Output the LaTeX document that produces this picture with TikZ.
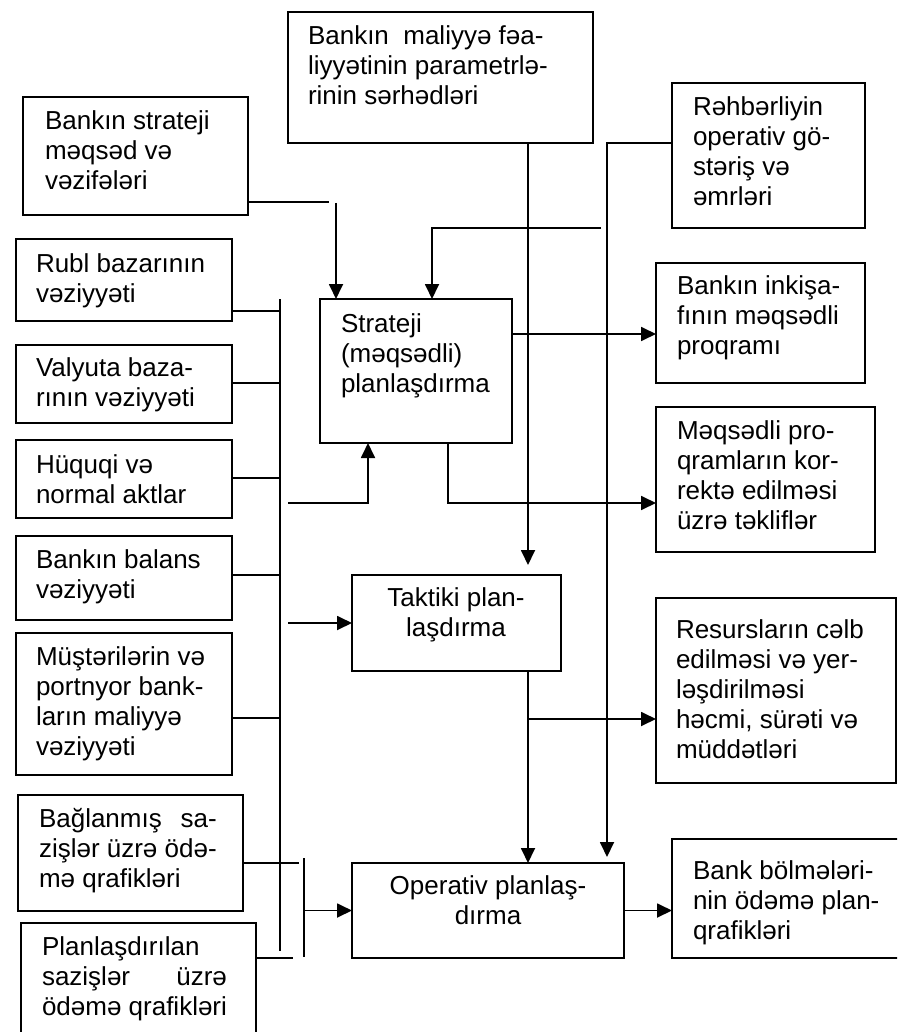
\documentclass[tikz,border=0pt]{standalone}
\usepackage{fontspec}
\setmainfont{Liberation Sans}
\usetikzlibrary{arrows.meta}
\newlength\spreadw
% stretch the first argument to the width of the second one
\newcommand\spreadto[2]{\settowidth{\spreadw}{#2}\makebox[\spreadw][s]{#1}}
\begin{document}
\begin{tikzpicture}[x=1pt,y=-1pt,
  box/.style={draw, line width=1.8pt, inner sep=0pt, outer sep=0pt, anchor=north west},
  % the strut puts the top of every text 21pt above its first baseline
  txt/.style={inner sep=0pt, outer sep=0pt, align=left, anchor=north west,
              font=\fontsize{26}{30}\selectfont, execute at begin node=\strut},
  ctxt/.style={txt, align=center, anchor=north},
  ln/.style={line width=1.8pt},
  arr/.style={ln, -{Triangle[length=15pt,width=14pt]}}]
\useasboundingbox (0,0) rectangle (897,1032);
\clip (0,0) rectangle (897,1032);

% ---------- boxes ----------
\node[box, minimum width=305, minimum height=131] (fin)   at (288,12)  {};
\node[box, minimum width=225, minimum height=118] (goal)  at (23,97)   {};
\node[box, minimum width=193, minimum height=145] (mgmt)  at (672,83)  {};
\node[box, minimum width=216, minimum height=82]  (rubl)  at (16,239)  {};
\node[box, minimum width=216, minimum height=78]  (valy)  at (16,345)  {};
\node[box, minimum width=216, minimum height=78]  (law)   at (16,440)  {};
\node[box, minimum width=216, minimum height=84]  (bal)   at (16,536)  {};
\node[box, minimum width=216, minimum height=142] (cli)   at (16,633)  {};
\node[box, minimum width=225, minimum height=116] (sign)  at (18,795)  {};
\node[box, minimum width=235, minimum height=125] (plan)  at (21,923)  {};
\node[box, minimum width=192, minimum height=144] (strat) at (320,299) {};
\node[box, minimum width=209, minimum height=96]  (tact)  at (352,575) {};
\node[box, minimum width=272, minimum height=95]  (oper)  at (352,863) {};
\node[box, minimum width=209, minimum height=120] (dev)   at (656,263) {};
\node[box, minimum width=219, minimum height=145] (corr)  at (656,407) {};
\node[box, minimum width=240, minimum height=185] (res)   at (656,598) {};
\node[box, minimum width=240, minimum height=119] (pay)   at (672,839) {};

% ---------- texts (y = first baseline - 21) ----------
\node[txt] (fin-t)   at (308,26)  {Bankın\ \ maliyyə fəa-\\liyyətinin parametrlə-\\rinin sərhədləri};
\node[txt] (goal-t)  at (45,111)  {Bankın strateji\\məqsəd və\\vəzifələri};
\node[txt] (mgmt-t)  at (693,97)  {Rəhbərliyin\\operativ gö-\\stəriş və\\əmrləri};
\node[txt] (rubl-t)  at (36,254)  {Rubl bazarının\\vəziyyəti};
\node[txt] (valy-t)  at (36,358)  {Valyuta baza-\\rının vəziyyəti};
\node[txt] (law-t)   at (36,455)  {Hüquqi və\\normal aktlar};
\node[txt] (bal-t)   at (36,550)  {Bankın balans\\vəziyyəti};
\node[txt] (cli-t)   at (36,647)  {Müştərilərin və\\portnyor bank-\\ların maliyyə\\vəziyyəti};
\node[txt] (sign-t)  at (39,808)  {\spreadto{Bağlanmış sa-}{zişlər üzrə ödə-}\\zişlər üzrə ödə-\\mə qrafikləri};
\node[txt] (plan-t)  at (42,937)  {Planlaşdırılan\\\spreadto{sazişlər üzrə}{ödəmə qrafikləri}\\ödəmə qrafikləri};
\node[txt] (strat-t) at (341,314) {Strateji\\(məqsədli)\\planlaşdırma};
\node[ctxt] (tact-t) at (456,588) {Taktiki plan-\\laşdırma};
\node[ctxt] (oper-t) at (488,876) {Operativ planlaş-\\dırma};
\node[txt] (dev-t)   at (677,276) {Bankın inkişa-\\fının məqsədli\\proqramı};
\node[txt] (corr-t)  at (677,421) {Məqsədli pro-\\qramların kor-\\rektə edilməsi\\üzrə təkliflər};
\node[txt] (res-t)   at (676,620) {Resursların cəlb\\edilməsi və yer-\\ləşdirilməsi\\həcmi, sürəti və\\müddətləri};
\node[txt] (pay-t)   at (693,861) {Bank bölmələri-\\nin ödəmə plan-\\qrafikləri};

% ---------- free ends of connectors ----------
\coordinate (g1) at (329,202);
\coordinate (g2) at (336,203);
\coordinate (m1) at (607,143);
\coordinate (k1) at (601,228);
\coordinate (k2) at (432,228);
\coordinate (bt) at (280,299);
\coordinate (bb) at (280,951);
\coordinate (ct) at (304,858);
\coordinate (cb) at (304,957);
\coordinate (h1) at (288,503);
\coordinate (h2) at (368,503);
\coordinate (t1) at (288,623);
\coordinate (s1) at (448,503);
\coordinate (v1) at (528,0);
\coordinate (r1) at (528,719);

% ---------- connectors ----------
% strategic goals
\draw[ln] (goal.east |- g1) -- (g1);
\draw[arr] (g2) -- (g2 |- strat.north);
% management orders
\draw[arr, shorten >=6pt] (mgmt.west |- m1) -- (m1) -- (m1 |- oper.north);
\draw[arr] (k1) -- (k2) -- (k2 |- strat.north);
% parameter limits
\draw[arr, shorten >=10pt] (fin.south -| v1) -- (tact.north -| v1);
% input bus on the left
\draw[ln] (bt) -- (bb);
\draw[ln] (rubl.east |- 0,311) -- (bt |- 0,311);
\draw[ln] (valy.east |- 0,383) -- (bt |- 0,383);
\draw[ln] (law.east  |- 0,478) -- (bt |- 0,478);
\draw[ln] (bal.east  |- 0,575) -- (bt |- 0,575);
\draw[ln] (cli.east  |- 0,718) -- (bt |- 0,718);
\draw[ln] (sign.east |- 0,863) -- (299,863);
\draw[ln] (plan.east |- 0,958) -- (293,958);
\draw[ln] (ct) -- (cb);
\draw[arr] (ct |- oper.west) -- (oper.west);
\draw[arr] (h1) -- (h2) -- (h2 |- strat.south);
\draw[arr] (t1) -- (tact.west);
% outputs of strategic planning
\draw[arr] (strat.east |- 0,334) -- (dev.west |- 0,334);
\draw[arr] (strat.south -| s1) -- (s1) -- (corr.west |- s1);
% tactical to operative
\draw[arr] (tact.south -| v1) -- (oper.north -| v1);
\draw[arr] (r1) -- (res.west |- r1);
\draw[arr] (oper.east) -- (pay.west |- oper.east);
\end{tikzpicture}
\end{document}
